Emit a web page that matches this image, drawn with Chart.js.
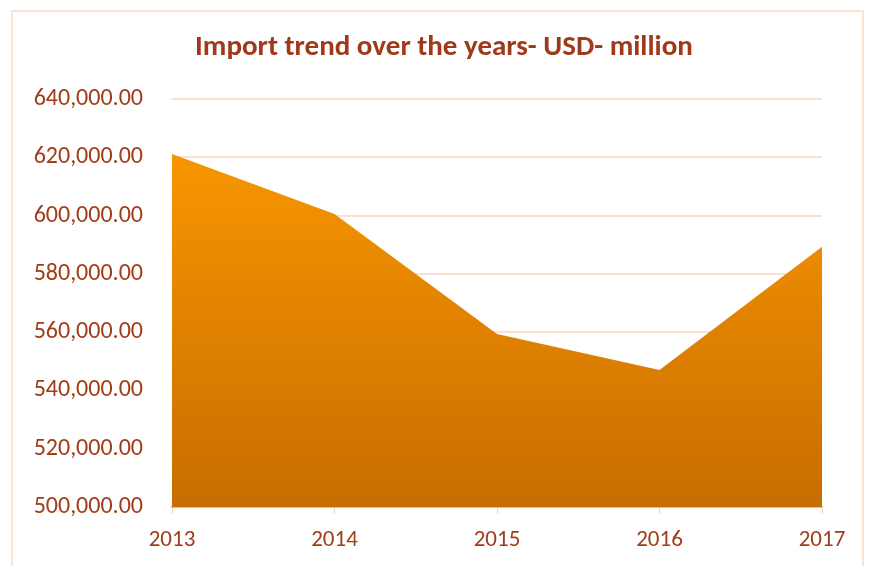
<!DOCTYPE html>
<html>
<head>
<meta charset="utf-8">
<script src="https://cdn.jsdelivr.net/npm/chart.js"></script>
<style>
  html, body { margin: 0; padding: 0; background: #ffffff; }
  body { width: 877px; height: 566px; overflow: hidden; position: relative; }
  .frame {
    position: absolute; left: 11px; top: 10px; width: 853px; height: 600px;
    border: 2px solid #fbe1d6; box-sizing: border-box;
  }
  .wrap { position: absolute; left: 0; top: 0; width: 877px; height: 566px; }
</style>
</head>
<body>
<div class="frame"></div>
<div class="wrap"><canvas id="imports"></canvas></div>
<script>
const years = ['2013', '2014', '2015', '2016', '2017'];
const importValues = [621100, 600500, 559400, 547000, 589300];
const yTicks = [500000, 520000, 540000, 560000, 580000, 600000, 620000, 640000];
const titleText = 'Import trend over the years- USD- million';

const textColor = '#a03c18';
const gridColor = '#fbdfd3';
const fontFamily = 'Carlito, Calibri, Lato, "Open Sans", sans-serif';

// soft drop shadow under the filled area
const areaShadow = {
  id: 'areaShadow',
  beforeDatasetDraw(chart) {
    const ctx = chart.ctx;
    ctx.save();
    ctx.shadowColor = 'rgba(0,0,0,0.28)';
    ctx.shadowBlur = 3;
    ctx.shadowOffsetX = 2;
    ctx.shadowOffsetY = 2;
  },
  afterDatasetDraw(chart) {
    chart.ctx.restore();
  }
};

// title centred on the frame rather than on the plot
const frameTitle = {
  id: 'frameTitle',
  afterDraw(chart) {
    const ctx = chart.ctx;
    ctx.save();
    ctx.fillStyle = '#a0391a';
    ctx.font = 'bold 29px ' + fontFamily;
    ctx.textAlign = 'center';
    ctx.textBaseline = 'middle';
    ctx.fillText(titleText, 444, 48);
    ctx.restore();
  }
};

function areaGradient(context) {
  const area = context.chart.chartArea;
  if (!area) return '#e68a00';
  const g = context.chart.ctx.createLinearGradient(0, area.top, 0, area.bottom);
  g.addColorStop(0, '#ff9c00');
  g.addColorStop(1, '#c86d00');
  return g;
}

new Chart(document.getElementById('imports'), {
  type: 'line',
  data: {
    labels: years,
    datasets: [{
      label: 'Imports',
      data: importValues,
      fill: 'start',
      backgroundColor: areaGradient,
      borderWidth: 0,
      pointRadius: 0,
      tension: 0
    }]
  },
  plugins: [areaShadow, frameTitle],
  options: {
    responsive: true,
    maintainAspectRatio: false,
    animation: false,
    layout: { padding: { left: 0, right: 55, top: 99, bottom: 0 } },
    plugins: {
      legend: { display: false },
      tooltip: { enabled: false },
      title: { display: false }
    },
    scales: {
      x: {
        offset: false,
        border: { display: true, color: '#c4c4c4', width: 2 },
        grid: { drawOnChartArea: false, drawTicks: true, tickLength: 7, color: '#f6cdbd' },
        ticks: { color: textColor, padding: 12, font: { family: fontFamily, size: 23 } },
        afterFit(scale) { scale.height = 59; }
      },
      y: {
        min: 500000,
        max: 640000,
        border: { display: false },
        grid: { color: gridColor, lineWidth: 2, drawTicks: false },
        afterBuildTicks(scale) { scale.ticks = yTicks.map(v => ({ value: v })); },
        ticks: {
          color: textColor,
          padding: 29,
          font: { family: fontFamily, size: 24 },
          callback: v => v.toLocaleString('en-US', { minimumFractionDigits: 2, maximumFractionDigits: 2 })
        },
        afterFit(scale) { scale.width = 172; }
      }
    }
  }
});
</script>
</body>
</html>
